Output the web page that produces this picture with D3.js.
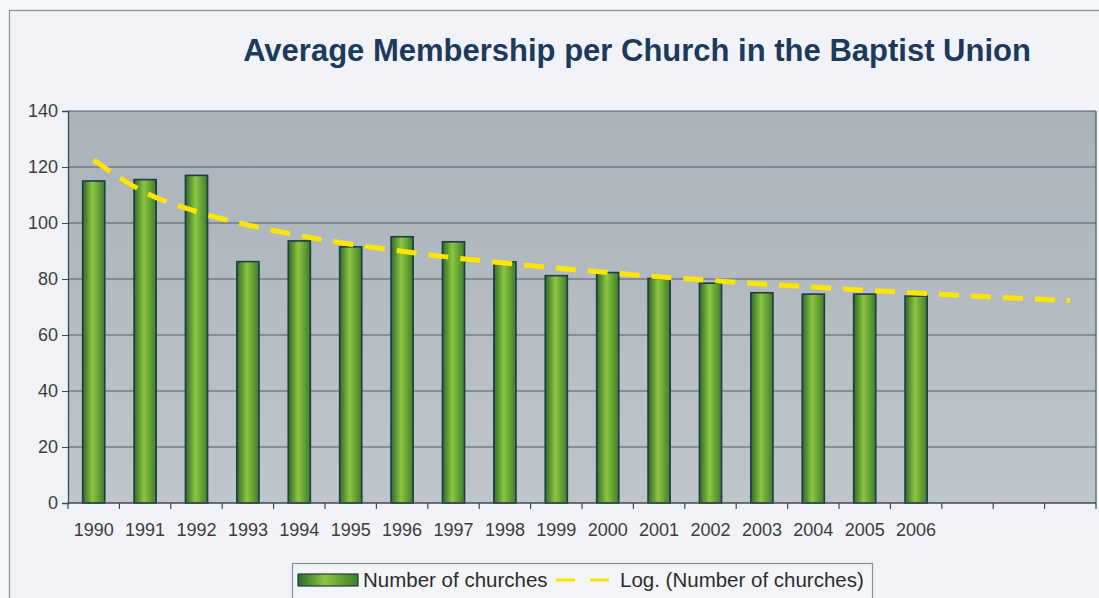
<!DOCTYPE html>
<html><head><meta charset="utf-8">
<script src="https://cdn.jsdelivr.net/npm/d3@7"></script>
<style>
html,body{margin:0;padding:0;background:#f6f7fb;}
svg{display:block;font-family:"Liberation Sans",Arial,sans-serif;}
</style></head>
<body>
<svg id="c" width="1099" height="598"></svg>
<script>
const categories = ["1990","1991","1992","1993","1994","1995","1996","1997","1998","1999","2000","2001","2002","2003","2004","2005","2006","f1","f2","f3"];
const yearLabels = ["1990","1991","1992","1993","1994","1995","1996","1997","1998","1999","2000","2001","2002","2003","2004","2005","2006","","",""];
const churches = [115,115.5,117,86.2,93.6,91.5,95.1,93.3,86.1,81.2,82.3,80.2,78.5,75.1,74.6,74.6,73.9];
const trend = [122.5,110.9,104.1,99.3,95.5,92.4,89.9,87.6,85.7,83.9,82.3,80.8,79.5,78.2,77.1,76.0,75.0,74.0,73.1,72.3];
const yTicks = [0,20,40,60,80,100,120,140];
const title = "Average Membership per Church in the Baptist Union";
const legendLabels = ["Number of churches","Log. (Number of churches)"];

const svg = d3.select("#c");
const defs = svg.append("defs");
const bg = defs.append("linearGradient").attr("id","plotbg").attr("x1",0).attr("y1",0).attr("x2",0).attr("y2",1);
bg.append("stop").attr("offset","0%").attr("stop-color","#a9b2b9");
bg.append("stop").attr("offset","100%").attr("stop-color","#bfc6cb");
const bar = defs.append("linearGradient").attr("id","bargrad").attr("x1",0).attr("y1",0).attr("x2",1).attr("y2",0);
bar.append("stop").attr("offset","0%").attr("stop-color","#2f6a2a");
bar.append("stop").attr("offset","45%").attr("stop-color","#8cc63f");
bar.append("stop").attr("offset","100%").attr("stop-color","#3e7d2c");

// outer frame
svg.append("rect").attr("x",9.5).attr("y",10.5).attr("width",1200).attr("height",700)
  .attr("fill","#f1f3f8").attr("stroke","#8a8f96").attr("stroke-width",1.2);

const L=68, R=1096, T=111, B=503;
const x = d3.scaleBand().domain(categories).range([L,R]).paddingInner(0.57).paddingOuter(0.285);
const xc = d3.scalePoint().domain(categories).range([L,R]).padding(0.5);
const y = d3.scaleLinear().domain([0,140]).range([B,T]);

svg.append("rect").attr("x",L).attr("y",T).attr("width",R-L).attr("height",B-T).attr("fill","url(#plotbg)");

// gridlines
svg.append("g").selectAll("line").data(yTicks.filter(d=>d>0)).join("line")
  .attr("x1",L).attr("x2",R).attr("y1",d=>y(d)).attr("y2",d=>y(d))
  .attr("stroke","#4e5d68").attr("stroke-width",1.2);
svg.append("line").attr("x1",R).attr("x2",R).attr("y1",T).attr("y2",B).attr("stroke","#4e5d68").attr("stroke-width",1.2);

// bars
svg.append("g").selectAll("rect").data(churches).join("rect")
  .attr("x",(d,i)=>x(categories[i])).attr("width",x.bandwidth())
  .attr("y",d=>y(d)).attr("height",d=>B-y(d))
  .attr("fill","url(#bargrad)").attr("stroke","#1f3a48").attr("stroke-width",1.6);

// y axis
const ya = svg.append("g").attr("transform",`translate(${L},0)`)
  .call(d3.axisLeft(y).tickValues(yTicks).tickSize(6).tickPadding(4));
ya.select(".domain").attr("stroke","#3b4a55").attr("stroke-width",1.3);
ya.selectAll(".tick line").attr("stroke","#3b4a55");
ya.selectAll("text").attr("font-size","18px").attr("fill","#3c3c3c").attr("font-family","Liberation Sans, Arial, sans-serif");

// x axis (ticks at category boundaries)
const bounds = d3.range(categories.length+1).map(i=>L+i*(R-L)/categories.length);
const xa = svg.append("g");
xa.append("line").attr("x1",L).attr("x2",R).attr("y1",B).attr("y2",B).attr("stroke","#3b4a55").attr("stroke-width",1.4);
xa.selectAll("line.t").data(bounds).join("line").attr("class","t")
  .attr("x1",d=>d).attr("x2",d=>d).attr("y1",B).attr("y2",B+6).attr("stroke","#3b4a55").attr("stroke-width",1.2);
xa.selectAll("text").data(yearLabels).join("text")
  .attr("x",(d,i)=>xc(categories[i])).attr("y",536).attr("text-anchor","middle")
  .attr("font-size","18px").attr("fill","#3c3c3c").text(d=>d);

// trendline
const line = d3.line().x((d,i)=>xc(categories[i])).y(d=>y(d)).curve(d3.curveMonotoneX);
svg.append("path").datum(trend).attr("d",line).attr("fill","none")
  .attr("stroke","#ffe600").attr("stroke-width",5).attr("stroke-dasharray","20,12").attr("stroke-linecap","butt");

// title
svg.append("text").attr("x",637).attr("y",61).attr("text-anchor","middle")
  .attr("font-size","31px").attr("font-weight","bold").attr("fill","#1d3a5c").text(title);

// legend
const lg = svg.append("g");
lg.append("rect").attr("x",292.5).attr("y",563.5).attr("width",580).attr("height",60)
  .attr("fill","#f3f5f9").attr("stroke","#8a8f96").attr("stroke-width",1.2);
lg.append("rect").attr("x",298).attr("y",574).attr("width",60).attr("height",12)
  .attr("fill","url(#bargrad)").attr("stroke","#1f3a48").attr("stroke-width",1.2);
lg.append("text").attr("x",363).attr("y",587).attr("font-size","20.5px").attr("fill","#2c2c2c").text(legendLabels[0]);
lg.append("line").attr("x1",556).attr("x2",614).attr("y1",580).attr("y2",580)
  .attr("stroke","#ffe600").attr("stroke-width",3).attr("stroke-dasharray","19,15");
lg.append("text").attr("x",620).attr("y",587).attr("font-size","20.5px").attr("fill","#2c2c2c").text(legendLabels[1]);
</script>
</body></html>
